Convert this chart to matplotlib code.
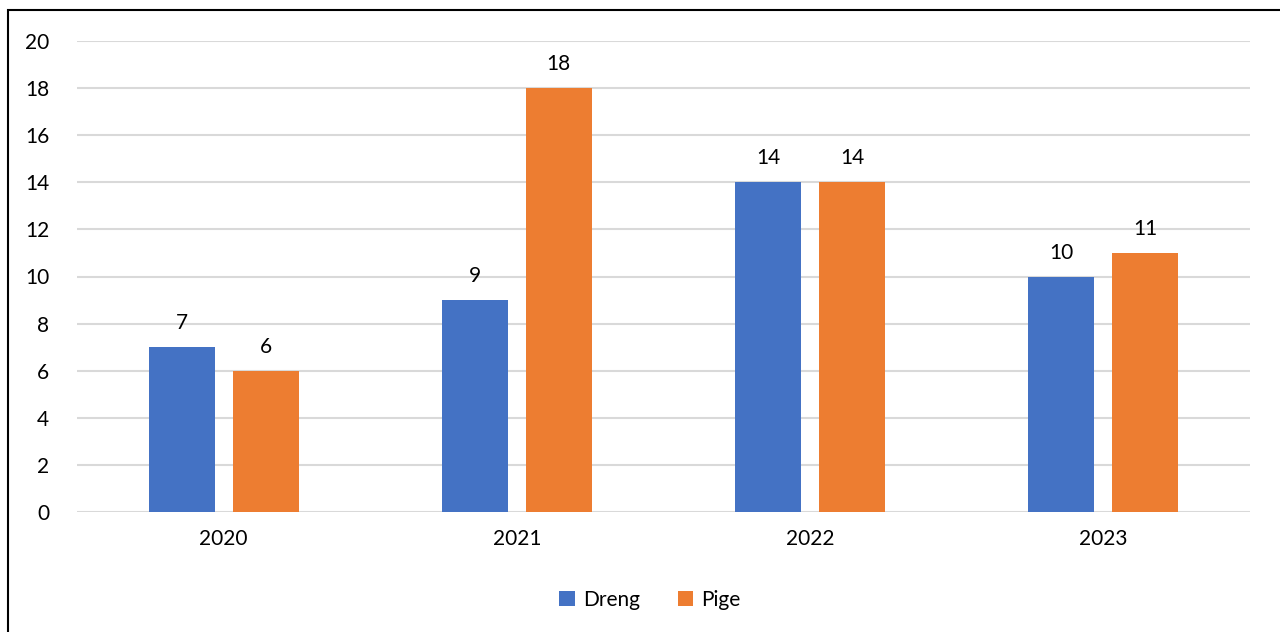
import numpy as np
import matplotlib.pyplot as plt
from matplotlib.patches import Rectangle

plt.rcParams['font.family'] = ['Lato', 'DejaVu Sans']

years = ['2020', '2021', '2022', '2023']
dreng = [7, 9, 14, 10]
pige = [6, 18, 14, 11]

fig = plt.figure(figsize=(12.8, 6.32), dpi=100)
ax = fig.add_axes([77/1280, 1 - 512/632, (1250 - 77)/1280, (512 - 41)/632])

x = np.arange(len(years))
w = 0.225
off = 0.143
b1 = ax.bar(x - off, dreng, w, color='#4472C4', label='Dreng', zorder=3)
b2 = ax.bar(x + off, pige, w, color='#ED7D31', label='Pige', zorder=3)
ax.bar_label(b1, padding=10, fontsize=15, color='#000000')
ax.bar_label(b2, padding=10, fontsize=15, color='#000000')

ax.set_xlim(-0.5, len(years) - 0.5)
ax.set_ylim(0, 20)
ax.set_yticks(range(0, 21, 2))
ax.set_xticks(x)
ax.set_xticklabels(years)
ax.tick_params(axis='both', length=0, labelsize=15, colors='#000000')
ax.tick_params(axis='y', pad=20)
ax.tick_params(axis='x', pad=12)
ax.grid(axis='y', color='#d9d9d9', linewidth=1.5, zorder=0)
for s in ax.spines.values():
    s.set_visible(False)

leg = fig.legend(loc='center', bbox_to_anchor=(650/1280, 1 - 600/632), ncol=2, frameon=False,
                 fontsize=15, handlelength=0.75, handleheight=0.75, handletextpad=0.4, columnspacing=1.8)

fig.patches.append(Rectangle((8/1280, -0.01), 1.0, 1 - 10/632 + 0.01, transform=fig.transFigure,
                             fill=False, edgecolor='#000000', linewidth=1.5))

fig.savefig('out.png', dpi=100)
